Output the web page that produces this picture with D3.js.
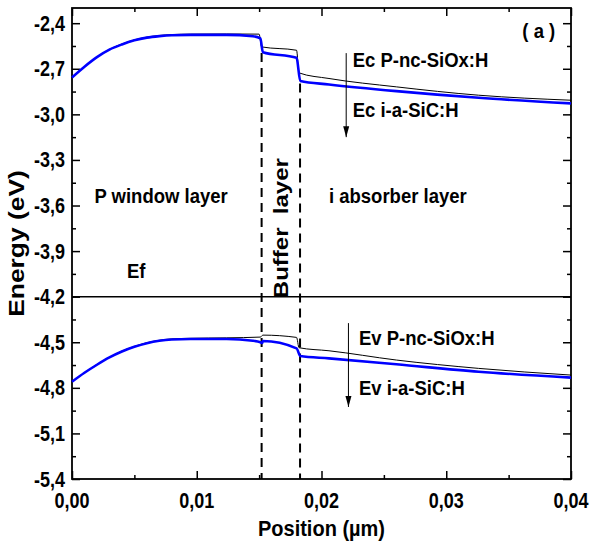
<!DOCTYPE html>
<html>
<head>
<meta charset="utf-8">
<script src="https://cdn.jsdelivr.net/npm/d3@7"></script>
<style>
    body { margin: 0; background: #fff; }
    text { font-family: "Liberation Sans", Arial, sans-serif; font-weight: bold; fill: #000; }
</style>
</head>
<body>
<div id="chart"></div>
<script>

// axis ticks
let xTicks = [0, 0.01, 0.02, 0.03, 0.04];
let xMinor = [0.005, 0.015, 0.025, 0.035];
let yTicks = [-2.4, -2.7, -3.0, -3.3, -3.6, -3.9, -4.2, -4.5, -4.8, -5.1, -5.4];
let yMinor = [-2.55, -2.85, -3.15, -3.45, -3.75, -4.05, -4.35, -4.65, -4.95, -5.25];

// band edges, [position, energy]
let ecBlack = [[0, -2.757], [0.001, -2.686], [0.002, -2.622], [0.003, -2.572], [0.004, -2.537], [0.005, -2.510], [0.006, -2.492], [0.007, -2.481], [0.008, -2.475], [0.0095, -2.472], [0.0124, -2.471], [0.0150, -2.472], [0.0152, -2.556], [0.0180, -2.578], [0.0182, -2.727], [0.0206, -2.764], [0.026, -2.819], [0.0326, -2.874], [0.04, -2.907]];
let ecBlue = [[0, -2.757], [0.001, -2.686], [0.002, -2.623], [0.003, -2.574], [0.004, -2.540], [0.005, -2.513], [0.006, -2.495], [0.007, -2.485], [0.008, -2.479], [0.0095, -2.477], [0.0124, -2.477], [0.0145, -2.486], [0.0151, -2.500], [0.0153, -2.591], [0.0180, -2.628], [0.0183, -2.780], [0.0206, -2.803], [0.026, -2.847], [0.0326, -2.891], [0.04, -2.928]];
let evBlack = [[0, -4.760], [0.001, -4.700], [0.002, -4.646], [0.003, -4.598], [0.004, -4.558], [0.005, -4.527], [0.006, -4.503], [0.007, -4.487], [0.008, -4.478], [0.0095, -4.474], [0.0124, -4.471], [0.0151, -4.466], [0.0153, -4.453], [0.0180, -4.468], [0.0182, -4.536], [0.0206, -4.556], [0.026, -4.617], [0.0326, -4.672], [0.04, -4.716]];
let evBlue = [[0, -4.760], [0.001, -4.701], [0.002, -4.648], [0.003, -4.600], [0.004, -4.561], [0.005, -4.530], [0.006, -4.506], [0.007, -4.490], [0.008, -4.482], [0.0095, -4.479], [0.0124, -4.479], [0.0145, -4.490], [0.0151, -4.500], [0.01525, -4.505], [0.0153, -4.492], [0.0180, -4.540], [0.0183, -4.591], [0.0206, -4.606], [0.026, -4.645], [0.0326, -4.694], [0.04, -4.733]];

let fermiLevel = -4.2;
// buffer layer boundaries: position, energy where dashes start
let bufferEdges = [[0.0152, -2.597], [0.01828, -2.797]];

// text annotations in data coordinates
let labels = [
    {text: "P window layer", x: 0.0018, y: -3.584},
    {text: "i absorber layer", x: 0.0206, y: -3.584},
    {text: "Ef", x: 0.0044, y: -4.08},
    {text: "Ec P-nc-SiOx:H", x: 0.0225, y: -2.687},
    {text: "Ec i-a-SiC:H", x: 0.0225, y: -3.016},
    {text: "Ev P-nc-SiOx:H", x: 0.0230, y: -4.518},
    {text: "Ev i-a-SiC:H", x: 0.0230, y: -4.847},
    {text: "( a )", x: 0.0361, y: -2.50}
];
let arrows = [[0.02198, -2.597, -3.15], [0.02216, -4.374, -4.926]];

let margin = {top: 8, right: 20, bottom: 66, left: 72};
let width = 591, height = 545;

let svg = d3.select("#chart").append("svg")
    .attr("width", width)
    .attr("height", height);

let x = d3.scaleLinear()
    .domain([0, 0.04])
    .range([margin.left, width - margin.right]);

let y = d3.scaleLinear()
    .domain([-5.4, -2.3])
    .range([height - margin.bottom, margin.top]);

let comma = (d, n) => d.toFixed(n).replace(".", ",");

let bottom = height - margin.bottom;
let right = width - margin.right;

// inward ticks on all four sides
function ticks(axis, pos, values, size) {
    svg.append("g")
        .attr("transform", pos)
        .call(axis.tickValues(values).tickSizeInner(-size).tickSizeOuter(0).tickFormat(""))
        .call(g => g.select(".domain").remove());
}
ticks(d3.axisBottom(x), `translate(0,${bottom})`, xTicks, 8);
ticks(d3.axisBottom(x), `translate(0,${bottom})`, xMinor, 4);
ticks(d3.axisTop(x), `translate(0,${margin.top})`, xTicks, 8);
ticks(d3.axisTop(x), `translate(0,${margin.top})`, xMinor, 4);
ticks(d3.axisLeft(y), `translate(${margin.left},0)`, yTicks, 8);
ticks(d3.axisLeft(y), `translate(${margin.left},0)`, yMinor, 4);
ticks(d3.axisRight(y), `translate(${right},0)`, yTicks, 8);
ticks(d3.axisRight(y), `translate(${right},0)`, yMinor, 4);

svg.selectAll(".tick line").attr("stroke", "#000").attr("stroke-width", 1.5);

// tick labels (slightly stretched vertically like the original)
svg.selectAll(".xlab")
    .data(xTicks)
    .enter()
    .append("text")
    .attr("class", "xlab")
    .attr("transform", d => `translate(${x(d)},508) scale(1,1.2)`)
    .attr("text-anchor", "middle")
    .style("font-size", "18px")
    .text(d => comma(d, 2));

svg.selectAll(".ylab")
    .data(yTicks)
    .enter()
    .append("text")
    .attr("class", "ylab")
    .attr("transform", d => `translate(65,${y(d) + 7.5}) scale(1,1.2)`)
    .attr("text-anchor", "end")
    .style("font-size", "18px")
    .text(d => comma(d, 1));

// frame
svg.append("rect")
    .attr("x", margin.left)
    .attr("y", margin.top)
    .attr("width", right - margin.left)
    .attr("height", bottom - margin.top)
    .attr("fill", "none")
    .attr("stroke", "#000")
    .attr("stroke-width", 1.8);

// Fermi level
svg.append("line")
    .attr("x1", margin.left).attr("x2", right)
    .attr("y1", y(fermiLevel)).attr("y2", y(fermiLevel))
    .attr("stroke", "#000")
    .attr("stroke-width", 1.4);

// buffer boundaries
svg.selectAll(".edge")
    .data(bufferEdges)
    .enter()
    .append("line")
    .attr("class", "edge")
    .attr("x1", d => x(d[0])).attr("x2", d => x(d[0]))
    .attr("y1", d => y(d[1])).attr("y2", bottom)
    .attr("stroke", "#000")
    .attr("stroke-width", 2)
    .attr("stroke-dasharray", "9,6");

// bands
let line = d3.line()
    .x(d => x(d[0]))
    .y(d => y(d[1]))
    .curve(d3.curveMonotoneX);

[ecBlack, evBlack].forEach(s => {
    svg.append("path")
        .attr("d", line(s))
        .attr("fill", "none")
        .attr("stroke", "#000")
        .attr("stroke-width", 1);
});

[ecBlue, evBlue].forEach(s => {
    svg.append("path")
        .attr("d", line(s))
        .attr("fill", "none")
        .attr("stroke", "#0000ff")
        .attr("stroke-width", 2.6);
});

// arrows
svg.selectAll(".arrow")
    .data(arrows)
    .enter()
    .append("line")
    .attr("class", "arrow")
    .attr("x1", d => x(d[0])).attr("x2", d => x(d[0]))
    .attr("y1", d => y(d[1])).attr("y2", d => y(d[2]))
    .attr("stroke", "#000")
    .attr("stroke-width", 1);

svg.selectAll(".arrow-head")
    .data(arrows)
    .enter()
    .append("path")
    .attr("class", "arrow-head")
    .attr("d", d => `M${x(d[0]) - 3},${y(d[2]) - 11} L${x(d[0])},${y(d[2])} L${x(d[0]) + 3},${y(d[2]) - 11} Z`)
    .attr("fill", "#000");

// labels
svg.selectAll(".label")
    .data(labels)
    .enter()
    .append("text")
    .attr("class", "label")
    .attr("transform", d => `translate(${x(d.x)},${y(d.y)}) scale(1,1.1)`)
    .style("font-size", "18.5px")
    .text(d => d.text);

svg.append("text")
    .attr("transform", `translate(${x(0.01732)},${y(-3.749)}) rotate(-90) scale(1.2,1)`)
    .attr("text-anchor", "middle")
    .style("font-size", "20px")
    .style("white-space", "pre")
    .text("Buffer  layer");

// axis titles
svg.append("text")
    .attr("transform", `translate(${(margin.left + right) / 2},536) scale(1,1.1)`)
    .attr("text-anchor", "middle")
    .style("font-size", "20px")
    .text("Position (µm)");

svg.append("text")
    .attr("transform", `translate(24.3,243.5) rotate(-90) scale(1.2,1)`)
    .attr("text-anchor", "middle")
    .style("font-size", "22px")
    .text("Energy (eV)");

</script>
</body>
</html>
